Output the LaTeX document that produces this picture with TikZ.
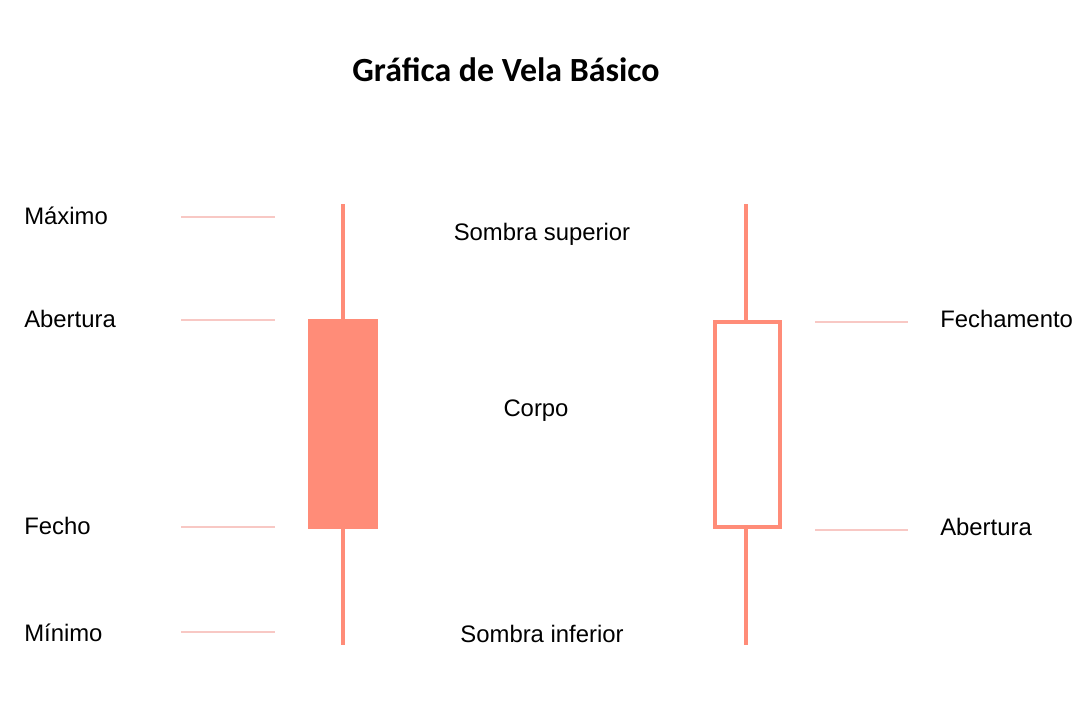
\documentclass[tikz,border=0pt]{standalone}
\usepackage{fontspec}
\setmainfont{Liberation Sans}
\newfontfamily\titlefont{Carlito}
\definecolor{candle}{HTML}{FF8C78}
\definecolor{guide}{HTML}{F8C8C4}
\begin{document}
\begin{tikzpicture}[x=0.75pt,y=-0.75pt,
  lbl/.style={font=\fontsize{17.9}{20}\selectfont, inner sep=0pt, text=black},
  guideline/.style={draw=guide, line width=1.6pt},
  wick/.style={draw=candle, line width=3pt},
  fullbody/.style={fill=candle, draw=none},
  hollowbody/.style={draw=candle, line width=3pt, fill=white}]
\useasboundingbox (0,0) rectangle (1091,718);
\node[font=\titlefont\bfseries\fontsize{25.4}{30}\selectfont, inner sep=0pt] (title) at (506,70) {Gráfica de Vela Básico};
% left candle
\coordinate (lt) at (343,204);
\coordinate (lb) at (343,645);
\draw[wick] (lt) -- (lb);
\fill[fullbody] (308,319) rectangle (378,529);
% right candle
\coordinate (rt) at (746,204);
\coordinate (rb) at (746,645);
\draw[wick] (rt) -- (rb);
\draw[hollowbody] (714.5,321.5) rectangle (779.5,526.5);
% guide lines left
\foreach \y/\n in {217/g1,320/g2,527/g3,632/g4}{
  \coordinate (\n a) at (181,\y); \coordinate (\n b) at (275,\y);
  \draw[guideline] (\n a) -- (\n b);
}
\foreach \y/\n in {322/h1,530/h2}{
  \coordinate (\n a) at (815,\y); \coordinate (\n b) at (908,\y);
  \draw[guideline] (\n a) -- (\n b);
}
% labels
\node[lbl, anchor=west] (maximo) at (24,216) {Máximo};
\node[lbl, anchor=west] (abertl) at (24,319) {Abertura};
\node[lbl, anchor=west] (fecho) at (24,526) {Fecho};
\node[lbl, anchor=west] (minimo) at (24,633) {Mínimo};
\node[lbl, anchor=west] (fecham) at (940,319) {Fechamento};
\node[lbl, anchor=west] (abertr) at (940,527) {Abertura};
\node[lbl] (ssup) at (542,234) {Sombra superior};
\node[lbl] (corpo) at (536,411) {Corpo};
\node[lbl] (sinf) at (542,634) {Sombra inferior};
\end{tikzpicture}
\end{document}
